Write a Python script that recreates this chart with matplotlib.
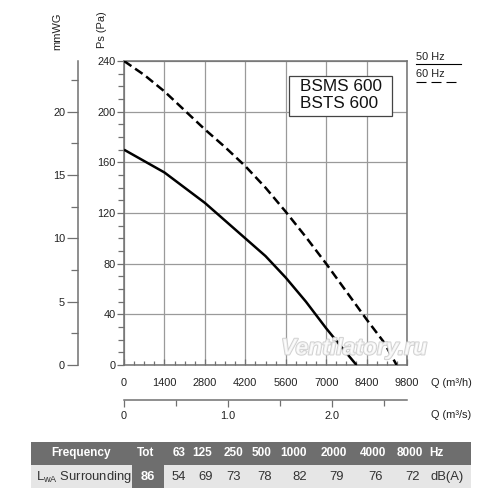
import matplotlib
matplotlib.use("Agg")
import matplotlib.pyplot as plt
import matplotlib.patheffects as pe
from matplotlib.patches import Rectangle
from matplotlib.ticker import MultipleLocator, FixedLocator

plt.rcParams['font.family'] = ['Liberation Sans', 'DejaVu Sans']
plt.rcParams['mathtext.fontset'] = 'custom'
plt.rcParams['mathtext.rm'] = 'Liberation Sans'

# ---- data ----
q50 = [0, 700, 1400, 2100, 2800, 3500, 4200, 4900, 5600, 6300, 7000, 7500, 8050]
ps50 = [170, 161, 152, 140, 128, 114, 100, 86, 69, 50, 29, 15, 0]
q60 = [0, 700, 1400, 2100, 2800, 3500, 4200, 4900, 5600, 6300, 7000, 7700, 8400, 9000, 9440]
ps60 = [240, 229, 216, 201, 186, 172, 157, 140, 121, 101, 80, 58, 36, 18, 0]

x_ticks = [0, 1400, 2800, 4200, 5600, 7000, 8400, 9800]
y_ticks = [0, 40, 80, 120, 160, 200, 240]
mm_ticks = [0, 5, 10, 15, 20]
s_ticks = [0, 1.0, 2.0]
s_labels = ['0', '1.0', '2.0']

model_lines = ['BSMS 600', 'BSTS 600']
legend_labels = ['50 Hz', '60 Hz']

freq_header = ['Tot', '63', '125', '250', '500', '1000', '2000', '4000', '8000', 'Hz']
lwa_values = ['86', '54', '69', '73', '78', '82', '79', '76', '72', 'dB(A)']

# ---- layout ----
W = H = 500
fig = plt.figure(figsize=(5, 5), dpi=100)
L, R, T, B = 124, 407, 61, 365
rect = [L / W, 1 - B / H, (R - L) / W, (B - T) / H]
fs = 7.9

gray_sp = '#707070'
ax = fig.add_axes(rect)
ax.set_xlim(0, 9800)
ax.set_ylim(0, 240)
ax.xaxis.set_major_locator(FixedLocator(x_ticks))
ax.xaxis.set_minor_locator(MultipleLocator(350))
ax.yaxis.set_major_locator(FixedLocator(y_ticks))
ax.yaxis.set_minor_locator(MultipleLocator(10))
ax.grid(True, which='major', color='#9a9a9a', lw=0.9)
for s in ax.spines.values():
    s.set_color(gray_sp)
    s.set_linewidth(1.1)
ax.tick_params(axis='x', which='major', direction='in', length=4, width=0.9,
               color=gray_sp, labelsize=fs, pad=9, labelcolor='#222')
ax.tick_params(axis='x', which='minor', direction='in', length=3, width=0.9, color=gray_sp)
ax.tick_params(axis='y', which='major', direction='out', length=5, width=0.9,
               color=gray_sp, labelsize=fs, pad=1, labelcolor='#222')
ax.tick_params(axis='y', which='minor', direction='out', length=4, width=0.9, color=gray_sp)
ax.set_axisbelow(True)

ax.plot(q50, ps50, color='black', lw=1.8, solid_capstyle='butt', solid_joinstyle='round', zorder=3)
ax.plot(q60, ps60, color='black', lw=1.8, dashes=(3.6, 1.8), zorder=3)

# model box
bx0, bx1 = (289.3 - L) / (R - L), (391.7 - L) / (R - L)
by1, by0 = (B - 75.7) / (B - T), (B - 115.7) / (B - T)
ax.add_patch(Rectangle((bx0, by0), bx1 - bx0, by1 - by0, transform=ax.transAxes,
                       facecolor='white', edgecolor='#444', lw=0.9, zorder=4))
for i, txt in enumerate(model_lines):
    yc = (B - (86.5 + 17 * i)) / (B - T)
    ax.text((300 - L) / (R - L), yc, txt, transform=ax.transAxes, fontsize=12.3,
            va='center', ha='left', color='#111', zorder=5)

# mmWG axis
ax_mm = fig.add_axes(rect)
ax_mm.patch.set_visible(False)
for k in ['top', 'right', 'bottom']:
    ax_mm.spines[k].set_visible(False)
ax_mm.spines['left'].set_position(('outward', (L - 77.7) * 0.72))
ax_mm.spines['left'].set_color(gray_sp)
ax_mm.spines['left'].set_linewidth(1.1)
ax_mm.set_ylim(0, 24)
ax_mm.set_xticks([])
ax_mm.yaxis.set_major_locator(FixedLocator(mm_ticks))
ax_mm.yaxis.set_minor_locator(FixedLocator([2.5, 7.5, 12.5, 17.5, 22.5]))
ax_mm.tick_params(axis='y', which='major', direction='out', length=8, width=0.9,
                  color=gray_sp, labelsize=fs, pad=1, labelcolor='#222')
ax_mm.tick_params(axis='y', which='minor', direction='out', length=5, width=0.9, color=gray_sp)

# m3/s axis
ax_s = fig.add_axes(rect)
ax_s.patch.set_visible(False)
for k in ['top', 'right', 'left']:
    ax_s.spines[k].set_visible(False)
ax_s.spines['bottom'].set_position(('outward', (400 - B) * 0.72))
ax_s.spines['bottom'].set_color(gray_sp)
ax_s.spines['bottom'].set_linewidth(1.1)
ax_s.set_xlim(0, 9800 / 3600)
ax_s.set_yticks([])
ax_s.set_xticks(s_ticks)
ax_s.set_xticklabels(s_labels)
ax_s.xaxis.set_minor_locator(FixedLocator([0.5, 1.5, 2.5]))
ax_s.tick_params(axis='x', which='major', direction='out', length=5, width=0.9,
                 color=gray_sp, labelsize=fs, pad=3, labelcolor='#222')
ax_s.tick_params(axis='x', which='minor', direction='out', length=4, width=0.9, color=gray_sp)

# overlay in pixel coordinates
ov = fig.add_axes([0, 0, 1, 1])
ov.set_xlim(0, W)
ov.set_ylim(H, 0)
ov.axis('off')
ov.patch.set_visible(False)

tc = '#222'
ov.text(57.7, 31, 'mmWG', rotation=90, ha='center', va='center', fontsize=fs, color=tc)
ov.text(101.7, 30, 'Ps (Pa)', rotation=90, ha='center', va='center', fontsize=fs, color=tc)
ov.text(431, 383, 'Q (m³/h)', ha='left', va='center', fontsize=fs, color=tc)
ov.text(431, 415, 'Q (m³/s)', ha='left', va='center', fontsize=fs, color=tc)

# legend
ov.text(415.5, 56.5, legend_labels[0], ha='left', va='center', fontsize=fs, color=tc)
ov.plot([415.5, 460.5], [64.3, 64.3], color='black', lw=0.8)
ov.text(415.5, 74, legend_labels[1], ha='left', va='center', fontsize=fs, color=tc)
ov.plot([415.5, 460.5], [82, 82], color='black', lw=0.8, dashes=(9, 4.5))

# watermark
ov.text(354, 348, 'Ventilatory.ru', ha='center', va='center', fontsize=16.5,
        style='italic', fontweight='bold', color='white', alpha=0.75,
        path_effects=[pe.withStroke(linewidth=1.4, foreground='#cccccc', alpha=0.9)])

# sound table
dark = '#6e6e6e'
light = '#e6e6e6'
ty0, ty1, ty2 = 442, 464.5, 488
tx0, tx1 = 31, 471
ov.add_patch(Rectangle((tx0, ty0), tx1 - tx0, ty1 - ty0, facecolor=dark, edgecolor='none'))
ov.add_patch(Rectangle((tx0, ty1), tx1 - tx0, ty2 - ty1, facecolor=light, edgecolor='none'))
ov.add_patch(Rectangle((131.7, ty1), 164 - 131.7, ty2 - ty1, facecolor=dark, edgecolor='none'))

hdr_x = [145.7, 179, 201.7, 233, 261.7, 293.3, 334, 373, 410, 436.7]
val_x = [147.5, 179, 205.7, 234, 265, 300, 337, 375.7, 413, 446.7]
hy = (ty0 + ty1) / 2
vy = (ty1 + ty2) / 2 + 0.5
ov.text(81, hy, 'Frequency', ha='center', va='center', fontsize=8.5,
        fontweight='bold', color='white')
for x, t in zip(hdr_x, freq_header):
    ov.text(x, hy, t, ha='center', va='center', fontsize=8.5, fontweight='bold', color='white')
ov.text(36, vy, r'L$_{\mathrm{wA}}$ Surrounding', ha='left', va='center', fontsize=9.4, color='#333')
for i, (x, t) in enumerate(zip(val_x, lwa_values)):
    ov.text(x, vy, t, ha='center', va='center', fontsize=9.4,
            fontweight='bold' if i == 0 else 'normal', color='white' if i == 0 else '#333')

fig.savefig('out.png', dpi=100)
